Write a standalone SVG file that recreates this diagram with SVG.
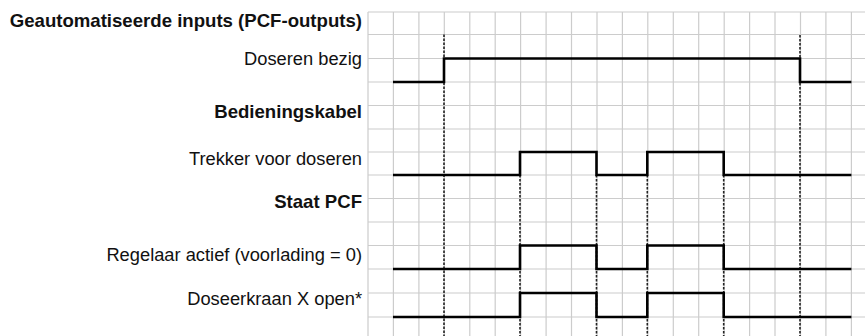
<svg xmlns="http://www.w3.org/2000/svg" width="865" height="336" viewBox="0 0 865 336">
<style>
.bg{fill:#ffffff}
.grid line{stroke:#cccccc;stroke-width:1.2}
.lbl{font-family:"Liberation Sans",Arial,Helvetica,sans-serif;font-size:18.3px;fill:#111;text-anchor:end}
.hdr{font-weight:bold;font-size:18.6px}
.sig{fill:none;stroke:#000;stroke-width:2.6;stroke-linejoin:miter}
.dot{stroke:#222;stroke-width:1.6;stroke-dasharray:2.4,1.6;fill:none}
</style>
<rect class="bg" x="0" y="0" width="865" height="336"/>
<g id="grid" class="grid">
<line x1="368" y1="12" x2="865" y2="12"/>
<line x1="368" y1="34.5" x2="865" y2="34.5"/>
<line x1="368" y1="58.5" x2="865" y2="58.5"/>
<line x1="368" y1="82" x2="865" y2="82"/>
<line x1="368" y1="105.5" x2="865" y2="105.5"/>
<line x1="368" y1="129" x2="865" y2="129"/>
<line x1="368" y1="152" x2="865" y2="152"/>
<line x1="368" y1="175" x2="865" y2="175"/>
<line x1="368" y1="198.5" x2="865" y2="198.5"/>
<line x1="368" y1="222" x2="865" y2="222"/>
<line x1="368" y1="245.5" x2="865" y2="245.5"/>
<line x1="368" y1="269" x2="865" y2="269"/>
<line x1="368" y1="293" x2="865" y2="293"/>
<line x1="368" y1="317" x2="865" y2="317"/>
<line x1="368" y1="12" x2="368" y2="336"/>
<line x1="393.4" y1="12" x2="393.4" y2="336"/>
<line x1="418.9" y1="12" x2="418.9" y2="336"/>
<line x1="444.3" y1="12" x2="444.3" y2="336"/>
<line x1="469.8" y1="12" x2="469.8" y2="336"/>
<line x1="495.2" y1="12" x2="495.2" y2="336"/>
<line x1="520.6" y1="12" x2="520.6" y2="336"/>
<line x1="546.1" y1="12" x2="546.1" y2="336"/>
<line x1="571.5" y1="12" x2="571.5" y2="336"/>
<line x1="597" y1="12" x2="597" y2="336"/>
<line x1="622.4" y1="12" x2="622.4" y2="336"/>
<line x1="647.8" y1="12" x2="647.8" y2="336"/>
<line x1="673.3" y1="12" x2="673.3" y2="336"/>
<line x1="698.7" y1="12" x2="698.7" y2="336"/>
<line x1="724.2" y1="12" x2="724.2" y2="336"/>
<line x1="749.6" y1="12" x2="749.6" y2="336"/>
<line x1="775" y1="12" x2="775" y2="336"/>
<line x1="800.5" y1="12" x2="800.5" y2="336"/>
<line x1="825.9" y1="12" x2="825.9" y2="336"/>
<line x1="851.4" y1="12" x2="851.4" y2="336"/>
</g>
<g id="labels">
<text class="lbl hdr" x="362" y="26.5">Geautomatiseerde inputs (PCF-outputs)</text>
<text class="lbl" x="362" y="64.5">Doseren bezig</text>
<text class="lbl hdr" x="362" y="118">Bedieningskabel</text>
<text class="lbl" x="362" y="165">Trekker voor doseren</text>
<text class="lbl hdr" x="362" y="207.5">Staat PCF</text>
<text class="lbl" x="362" y="260.5">Regelaar actief (voorlading = 0)</text>
<text class="lbl" x="362" y="304.5">Doseerkraan X open*</text>
</g>
<g id="connectors">
<line class="dot" x1="444" y1="34.5" x2="444" y2="336"/>
<line class="dot" x1="800" y1="35" x2="800" y2="336"/>
<line class="dot" x1="520" y1="175" x2="520" y2="336"/>
<line class="dot" x1="596.5" y1="175" x2="596.5" y2="336"/>
<line class="dot" x1="647.3" y1="175" x2="647.3" y2="336"/>
<line class="dot" x1="723.7" y1="175" x2="723.7" y2="336"/>
</g>
<g id="sig-doseren-bezig"><path class="sig" d="M393,82 H444 V58.5 H800 V82 H851.4"/></g>
<g id="sig-trekker"><path class="sig" d="M393,175 H520 V152 H596.5 V175 H647.3 V152 H723.7 V175 H851.4"/></g>
<g id="sig-regelaar"><path class="sig" d="M393,269 H520 V245.5 H596.5 V269 H647.3 V245.5 H723.7 V269 H851.4"/></g>
<g id="sig-doseerkraan"><path class="sig" d="M393,317 H520 V293 H596.5 V317 H647.3 V293 H723.7 V317 H851.4"/></g>
</svg>
